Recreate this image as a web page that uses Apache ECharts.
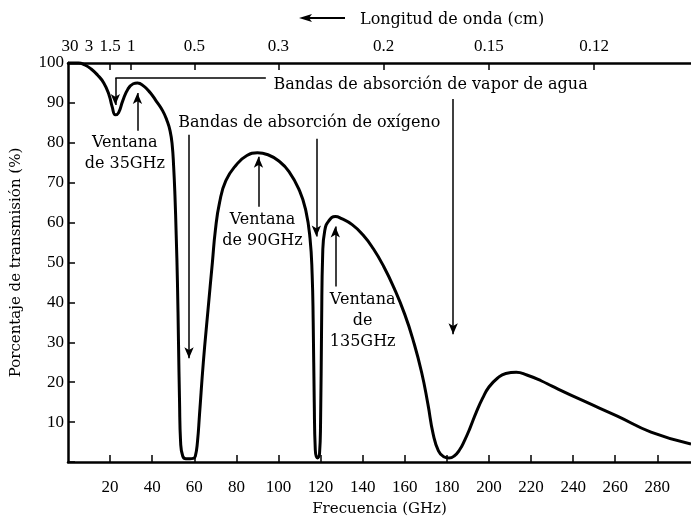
<!DOCTYPE html>
<html>
<head>
<meta charset="utf-8">
<script src="https://cdn.jsdelivr.net/npm/echarts@6/dist/echarts.min.js"></script>
<style>
  html, body { margin: 0; padding: 0; background: #fff; }
  #chart { width: 691px; height: 519px; }
</style>
</head>
<body>
<div id="chart"></div>
<script>
// transmission curve
const freqGHz = [0, 5, 8, 11, 14, 17, 19.5, 21, 22.5, 24, 26, 28.5, 31, 33, 36, 39, 42, 45, 47, 48.5,
  49.5, 50.2, 50.8, 51.4, 52, 52.5, 53, 53.5, 54.5, 56, 58, 59.5, 60.5, 61.5, 62.5, 64.3, 66.5, 68.6, 70, 72,
  75, 80, 85, 90, 95, 100, 105, 110, 113, 115, 116, 116.5, 117, 117.5, 118.5, 119.5, 120, 120.5, 121, 122,
  124, 127, 130, 135, 140, 145, 150, 155, 160, 164, 168, 171, 173.5, 176, 178.5, 181, 183.5, 186, 188.5, 191,
  194, 197, 200, 204, 208, 213, 218, 225, 230, 245, 261, 277, 296];
const transmission = [100, 100, 99.5, 98.5, 97, 95, 92, 89, 87, 87.5, 90.5, 93.5, 94.8, 95, 94.2, 92.6, 90.4, 88, 85.6, 83,
  79.5, 74, 67, 57, 45, 30, 15, 5, 1.5, 0.8, 0.8, 0.9, 1.5, 5, 12, 25, 38, 50, 58, 65,
  70.5, 74.5, 76.8, 77.5, 77, 75.5, 72.8, 68, 63, 56, 47, 35, 15, 3, 1, 2, 10, 35, 52, 58,
  60.5, 61.5, 61, 59.5, 57, 53.5, 49, 43.5, 37, 30.5, 22.5, 14.5, 7, 2.8, 1.3, 1, 1.5, 3, 5.5, 8.5,
  12.5, 16, 18.8, 21, 22.2, 22.5, 21.8, 20.3, 19, 15.3, 11.5, 7.5, 4.5];

// top axis: wavelength in cm, placed at f = 30 / lambda
const wavelengthLabels = ['30', '3', '1.5', '1', '0.5', '0.3', '0.2', '0.15', '0.12'];
const wavelengthTicks = ['1.5', '1', '0.5', '0.3', '0.2', '0.15', '0.12'];
const toFreq = (l) => 30 / parseFloat(l);

const serif = 'Liberation Serif';
const annoFont = 'DejaVu Serif';

// arrows [x, yFrom, yTo]
const arrows = [
  [22.5, 96.25, 89.5],
  [183, 91, 32],
  [57.5, 82, 26],
  [118, 81, 56.5],
  [33, 83, 92.5],
  [90.5, 64, 76.5],
  [127, 44, 59]
];

const texts = [
  { name: 'Bandas de absorción de vapor de agua', coord: [97.6, 94.5], align: 'left' },
  { name: 'Bandas de absorción de oxígeno', coord: [52.4, 85], align: 'left' },
  { name: 'Ventana\nde 35GHz', coord: [27, 77.3], align: 'center' },
  { name: 'Ventana\nde 90GHz', coord: [92.4, 58], align: 'center' },
  { name: 'Ventana\nde\n135GHz', coord: [140, 35.3], align: 'center' }
];

const chart = echarts.init(document.getElementById('chart'));

const lineData = arrows.map(a => [
  { coord: [a[0], a[1]], symbol: 'none' },
  { coord: [a[0], a[2]], symbol: 'arrow' }
]);
// horizontal bar of the water vapour bracket
lineData.push([
  { coord: [22.5, 96.25], symbol: 'none' },
  { coord: [94, 96.25], symbol: 'none' }
]);

const option = {
  animation: false,
  backgroundColor: '#fff',
  title: {
    text: 'Longitud de onda (cm)',
    left: 355,
    top: 7,
    textStyle: { fontFamily: annoFont, fontSize: 16, fontWeight: 'normal', color: '#000' }
  },
  graphic: [
    { type: 'line', shape: { x1: 304, y1: 18, x2: 345, y2: 18 }, style: { stroke: '#000', lineWidth: 2 } },
    { type: 'polygon', shape: { points: [[299, 18], [312, 14], [309, 18], [312, 22]] }, style: { fill: '#000' } }
  ],
  grid: { left: 68, right: 0, top: 63, bottom: 57, outerBoundsMode: 'none' },
  xAxis: [
    {
      type: 'value',
      min: 0,
      max: 296,
      interval: 20,
      name: 'Frecuencia (GHz)',
      nameLocation: 'middle',
      nameGap: 40,
      nameTextStyle: { fontFamily: annoFont, fontSize: 15, color: '#000' },
      axisLine: { lineStyle: { color: '#000', width: 2.5 } },
      axisTick: { inside: true, length: 7, lineStyle: { color: '#000', width: 1.5 } },
      axisLabel: {
        margin: 17,
        fontFamily: serif,
        fontSize: 17,
        color: '#000',
        showMinLabel: false,
        showMaxLabel: false,
        formatter: (v) => (v === 0 || v % 20 !== 0 ? '' : String(v))
      },
      splitLine: { show: false }
    },
    {
      type: 'value',
      position: 'top',
      min: 0,
      max: 296,
      axisLine: { show: true, lineStyle: { color: '#000', width: 2.5 } },
      axisTick: {
        show: true,
        inside: true,
        length: 7,
        customValues: wavelengthTicks.map(toFreq),
        lineStyle: { color: '#000', width: 1.5 }
      },
      axisLabel: {
        show: true,
        margin: 8,
        fontFamily: serif,
        fontSize: 17,
        color: '#000',
        customValues: wavelengthLabels.map(toFreq),
        formatter: (v) => {
          const hit = wavelengthLabels.find(l => Math.abs(toFreq(l) - v) < 1e-6);
          return hit || '';
        }
      },
      splitLine: { show: false }
    }
  ],
  yAxis: {
    type: 'value',
    min: 0,
    max: 100,
    interval: 10,
    name: 'Porcentaje de transmisión (%)',
    nameLocation: 'middle',
    nameGap: 44,
    nameTextStyle: { fontFamily: annoFont, fontSize: 15, color: '#000' },
    axisLine: { show: true, lineStyle: { color: '#000', width: 2.5 } },
    axisTick: { inside: true, length: 7, lineStyle: { color: '#000', width: 1.5 } },
    axisLabel: {
      margin: 4,
      fontFamily: serif,
      fontSize: 17,
      color: '#000',
      formatter: (v) => (v === 0 ? '' : String(v))
    },
    splitLine: { show: false }
  },
  series: [
    {
      type: 'line',
      data: freqGHz.map((f, i) => [f, transmission[i]]),
      showSymbol: false,
      smooth: 0.5,
      clip: false,
      lineStyle: { color: '#000', width: 3 },
      z: 3,
      markLine: {
        silent: true,
        symbolSize: [7, 11],
        precision: 2,
        label: { show: false },
        lineStyle: { color: '#000', width: 1.5, type: 'solid' },
        data: lineData
      },
      markPoint: {
        silent: true,
        symbol: 'circle',
        symbolSize: 0,
        data: texts.map(t => ({
          name: t.name,
          coord: t.coord,
          label: {
            show: true,
            position: 'inside',
            formatter: t.name,
            align: t.align,
            fontFamily: annoFont,
            fontSize: 16,
            lineHeight: 21,
            color: '#000'
          }
        }))
      }
    }
  ]
};

chart.setOption(option);
</script>
</body>
</html>
